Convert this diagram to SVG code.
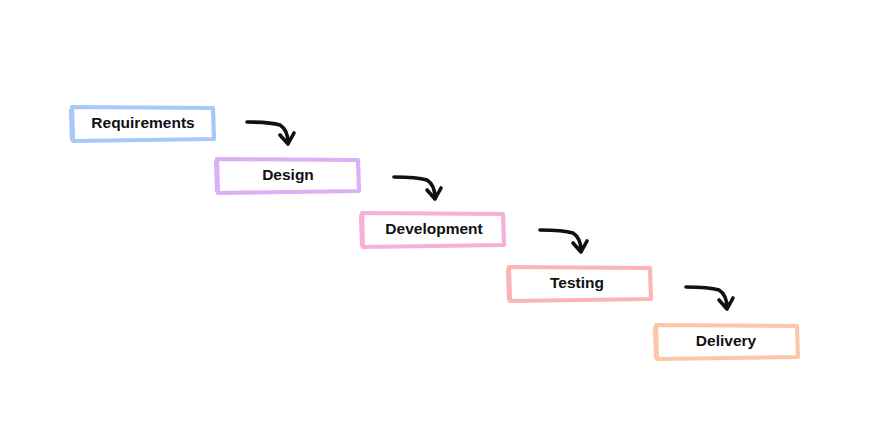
<svg xmlns="http://www.w3.org/2000/svg" width="872" height="446" viewBox="0 0 872 446">
<defs>
<style>
.box{fill:#ffffff;stroke-width:4.2;stroke-linecap:round;stroke-linejoin:round}
.lbl{font-family:"Liberation Sans",Arial,sans-serif;font-weight:bold;font-size:15.5px;fill:#111;text-anchor:middle;dominant-baseline:central}
.arr{fill:none;stroke:#111;stroke-width:3.6;stroke-linecap:round;stroke-linejoin:round}
</style>
</defs>
<rect width="872" height="446" fill="#ffffff"/>
<g id="node-requirements">
<path class="box" stroke="#a8c8f8" d="M72 107 L213 108 L214 139 L73 141 Z M71 110 L72 139"/>
<text class="lbl" x="143" y="122">Requirements</text>
</g>
<g id="node-design">
<path class="box" stroke="#dcb0f5" d="M217 159 L358 160 L359 191 L218 193 Z M216 162 L217 191"/>
<text class="lbl" x="288" y="174">Design</text>
</g>
<g id="node-development">
<path class="box" stroke="#f8b0d8" d="M362 213 L503 214 L504 245 L363 247 Z M361 216 L362 245"/>
<text class="lbl" x="434" y="228">Development</text>
</g>
<g id="node-testing">
<path class="box" stroke="#fbb5b5" d="M509 267 L650 268 L651 299 L510 301 Z M508 270 L509 299"/>
<text class="lbl" x="577" y="282">Testing</text>
</g>
<g id="node-delivery">
<path class="box" stroke="#fbc7a8" d="M656 325 L797 326 L798 357 L657 359 Z M655 328 L656 357"/>
<text class="lbl" x="726" y="340">Delivery</text>
</g>
<g id="connectors">
<path class="arr" d="M247 122 Q270 122 280 125 Q288 130 288 143 M280 135 L288 144 L294 133"/>
<path class="arr" d="M394 177 Q417 177 427 180 Q435 185 435 198 M427 190 L435 199 L441 188"/>
<path class="arr" d="M540 230 Q563 230 573 233 Q581 238 581 251 M573 243 L581 252 L587 241"/>
<path class="arr" d="M686 287 Q709 287 719 290 Q727 295 727 308 M719 300 L727 309 L733 298"/>
</g>
</svg>
